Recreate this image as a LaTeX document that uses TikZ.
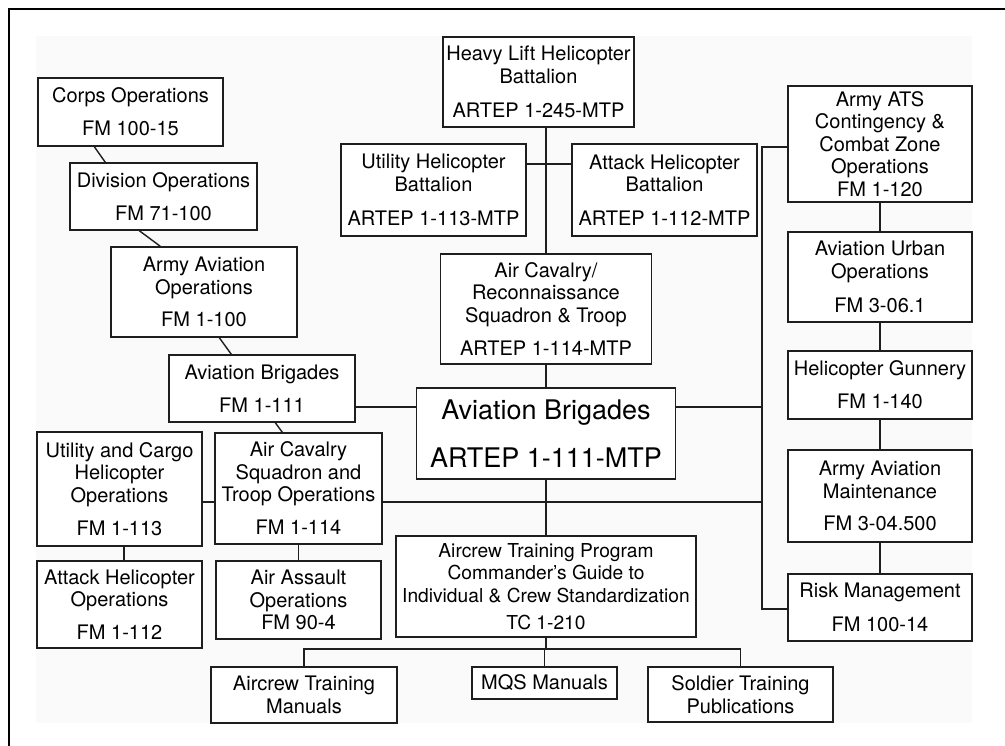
\documentclass[tikz,border=0pt]{standalone}
\usepackage{fontspec}
\setmainfont{TeX Gyre Heros}
\usetikzlibrary{calc}
\definecolor{ink}{HTML}{1E1E1E}
\definecolor{panel}{HTML}{FAFAFA}
\begin{document}
\begin{tikzpicture}[x=1pt,y=-1pt,
  box/.style={draw=ink, fill=white, line width=1.4pt, inner sep=0pt,
    align=center, text=black, font=\fontsize{20}{22.5}\selectfont},
  wh/.style 2 args={minimum width=#1pt, minimum height=#2pt},
  link/.style={draw=ink, line width=1.4pt},
  frameline/.style={draw=black, line width=2.8pt}]

% page, shaded panel and frame
\useasboundingbox (0,0) rectangle (1005,746);
\fill[white] (0,0) rectangle (1005,746);
\fill[panel] (36,36) rectangle (972,723);
\draw[frameline] (9,746) -- (9,9) -- (1005,9);

% left column
\node[box, wh={185}{68}]  (corps) at (130.5,112)  {Corps Operations\\[10.5pt]FM 100-15};
\node[box, wh={187}{67}]  (div)   at (163.5,196.5) {Division Operations\\[10.5pt]FM 71-100};
\node[box, wh={186}{90}]  (aao)   at (204,292)    {Army Aviation\\Operations\\[9.5pt]FM 1-100};
\node[box, wh={186}{67}]  (abfm)  at (262,388.5)  {Aviation Brigades\\[10.5pt]FM 1-111};
\node[box, wh={165}{114}] (ucho)  at (119.5,489)  {Utility and Cargo\\Helicopter\\Operations\\[10.5pt]FM 1-113};
\node[box, wh={167}{111}] (acsto) at (298.5,488.5) {Air Cavalry\\Squadron and\\Troop Operations\\[10.5pt]FM 1-114};
\node[box, wh={165}{87}]  (aho)   at (119.5,604.5) {Attack Helicopter\\Operations\\[10.5pt]FM 1-112};
\node[box, wh={165}{78}]  (aas)   at (298.5,600)  {Air Assault\\Operations\\FM 90-4};

% centre column
\node[box, wh={191}{90}]  (heavy) at (538.5,82)   {Heavy Lift Helicopter\\Battalion\\[12pt]ARTEP 1-245-MTP};
\node[box, wh={185}{92}]  (uhb)   at (433.5,190)  {Utility Helicopter\\Battalion\\[11.5pt]ARTEP 1-113-MTP};
\node[box, wh={185}{92}]  (ahb)   at (664.5,190)  {Attack Helicopter\\Battalion\\[11.5pt]ARTEP 1-112-MTP};
\node[box, wh={211}{110}] (acr)   at (546,309)    {Air Cavalry/\\Reconnaissance\\Squadron \& Troop\\[10.5pt]ARTEP 1-114-MTP};
\node[box, wh={259}{91}, font=\fontsize{27}{30}\selectfont] (main) at (546,433.5) {Aviation Brigades\\[18pt]ARTEP 1-111-MTP};
\node[box, wh={300}{101}, font=\fontsize{19.2}{22.5}\selectfont] (atp) at (546,586.5) {Aircrew Training Program\\Commander’s Guide to\\Individual \& Crew Standardization\\[4.5pt]TC 1-210};
\node[box, wh={186}{56}]  (atm)   at (304,695)    {Aircrew Training\\Manuals};
\node[box, wh={145}{32}]  (mqs)   at (544.5,683)  {MQS Manuals};
\node[box, wh={185}{55}]  (stp)   at (740.5,694.5) {Soldier Training\\Publications};

% right column
\node[box, wh={184}{116}] (ats)   at (880,144)    {Army ATS\\Contingency \&\\Combat Zone\\Operations\\FM 1-120};
\node[box, wh={184}{90}]  (urban) at (880,277)    {Aviation Urban\\Operations\\[12pt]FM 3-06.1};
\node[box, wh={184}{68}]  (gun)   at (880,385)    {Helicopter Gunnery\\[10.5pt]FM 1-140};
\node[box, wh={184}{92}]  (maint) at (880,496)    {Army Aviation\\Maintenance\\[9.5pt]FM 3-04.500};
\node[box, wh={184}{67}]  (risk)  at (880,607.5)  {Risk Management\\[12pt]FM 100-14};

% junction points of the bus lines
\coordinate (hbar)   at (546,164);
\coordinate (rtop)   at (762,147);
\coordinate (rmid)   at (762,407);
\coordinate (rlow)   at (762,502);
\coordinate (rbot)   at (762,609);
\coordinate (lowbus) at (546,649);

% left chain of slanted links
\draw[link] ($(corps.south west)+(57,0)$) -- ($(div.north west)+(36,0)$);
\draw[link] ($(div.south west)+(70,0)$)   -- ($(aao.north west)+(50,0)$);
\draw[link] ($(aao.south west)+(109,0)$)  -- ($(abfm.north west)+(63,0)$);
\draw[link] ($(abfm.south west)+(107,0)$) -- ($(acsto.north west)+(68,0)$);
\draw[link] ($(ucho.south)+(4.5,0)$) -- ($(aho.north)+(4.5,0)$);
\draw[link] (acsto.south) -- (aas.north);
\draw[link] (ucho.east |- rlow) -- (acsto.west |- rlow);
\draw[link] (acsto.east |- rlow) -- (rlow);
\draw[link] (abfm.east |- rmid) -- (main.west |- rmid);

% centre trunk
\draw[link] (heavy.south -| main.north) -- (acr.north);
\draw[link] (uhb.east |- hbar) -- (ahb.west |- hbar);
\draw[link] (acr.south) -- (main.north);
\draw[link] (main.south) -- (atp.north);
\draw[link] (atp.south) -- (lowbus);
\draw[link] (atm.north) -- (atm.north |- lowbus) -- (stp.north |- lowbus) -- (stp.north);
\draw[link] (mqs.north |- lowbus) -- (mqs.north);

% right bus
\draw[link] (main.east |- rmid) -- (rmid);
\draw[link] (ats.west |- rtop) -- (rtop) -- (rbot) -- (risk.west |- rbot);
\draw[link] (ats.south) -- (urban.north);
\draw[link] (urban.south) -- (gun.north);
\draw[link] (gun.south) -- (maint.north);
\draw[link] (maint.south) -- (risk.north);
\end{tikzpicture}
\end{document}
